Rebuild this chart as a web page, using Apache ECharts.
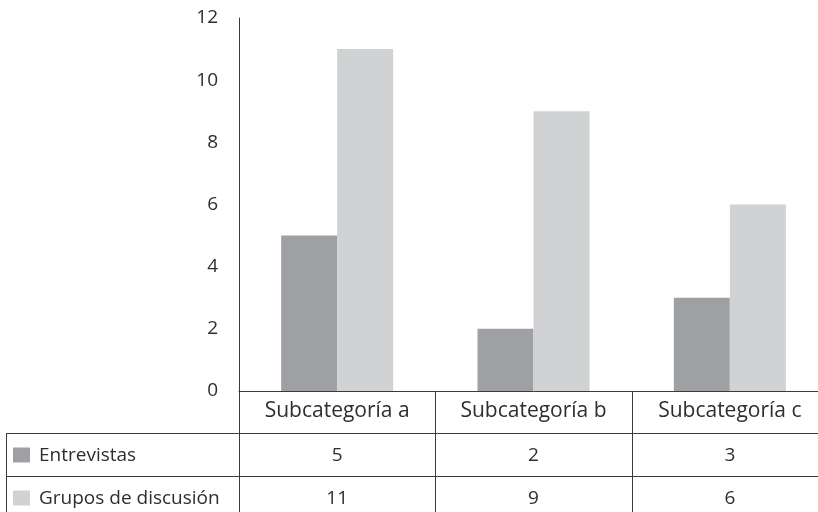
<!DOCTYPE html>
<html><head><meta charset="utf-8">
<script src="https://cdn.jsdelivr.net/npm/echarts@6/dist/echarts.min.js"></script>
<style>html,body{margin:0;padding:0;background:#fff;overflow:hidden;width:818px;height:512px}#c{width:828px;height:512px}</style>
</head><body><div id="c"></div>
<script>
var categories = ['Subcategoría a', 'Subcategoría b', 'Subcategoría c'];
var seriesNames = ['Entrevistas', 'Grupos de discusión'];
var entrevistas = [5, 2, 3];
var grupos = [11, 9, 6];
var yTicks = [0, 2, 4, 6, 8, 10, 12];

var FONT = '"Open Sans", "Noto Sans", sans-serif';
var LINE = '#3a3a3a';
var TXT = '#2e2e2e';
var COLORS = ['#9fa0a4', '#d1d2d4'];

var chart = echarts.init(document.getElementById('c'), null, {renderer: 'canvas'});
var option = {
  animation: false,
  grid: {left: 239, top: 18, bottom: 121, right: 0, containLabel: false},
  xAxis: {
    type: 'category', data: categories,
    axisLine: {show: true, lineStyle: {color: LINE, width: 1}},
    axisTick: {show: false},
    axisLabel: {color: TXT, fontFamily: FONT, fontSize: 21, margin: 10, interval: 0}
  },
  yAxis: {
    type: 'value', min: yTicks[0], max: yTicks[yTicks.length - 1], interval: 2,
    axisLine: {show: true, lineStyle: {color: LINE, width: 1}},
    axisTick: {show: false},
    splitLine: {show: false},
    axisLabel: {color: TXT, fontFamily: FONT, fontSize: 19, margin: 21}
  },
  series: [
    {name: seriesNames[0], type: 'bar', data: entrevistas, barWidth: 56, barGap: '0%', itemStyle: {color: COLORS[0]}},
    {name: seriesNames[1], type: 'bar', data: grupos, barWidth: 56, barGap: '0%', itemStyle: {color: COLORS[1]}}
  ]
};
chart.setOption(option);

// data table below the chart
var centers = categories.map(function (c) { return chart.convertToPixel({xAxisIndex: 0}, c); });
var gridLeft = 239, axisY = 391, rowH = 43, right = 828, tableLeft = 6;
var g = [];
function line(x1, y1, x2, y2) {
  g.push({type: 'line', shape: {x1: x1, y1: y1, x2: x2, y2: y2}, style: {stroke: LINE, lineWidth: 1}, silent: true});
}
var bounds = [gridLeft];
for (var i = 0; i < centers.length - 1; i++) bounds.push((centers[i] + centers[i + 1]) / 2);
bounds.forEach(function (b) { line(Math.round(b) + 0.5, axisY, Math.round(b) + 0.5, 512); });
var r1 = axisY + rowH - 1, r2 = r1 + rowH;
line(tableLeft, r1 + 0.5, right, r1 + 0.5);
line(tableLeft, r2 + 0.5, right, r2 + 0.5);
line(tableLeft + 0.5, r1, tableLeft + 0.5, 512);
var rows = [entrevistas, grupos];
rows.forEach(function (vals, ri) {
  var cy = r1 + rowH * ri + rowH / 2 + 1;
  g.push({type: 'rect', shape: {x: 13, y: cy - 8, width: 17, height: 15}, style: {fill: COLORS[ri]}, silent: true});
  g.push({type: 'text', x: 39, y: cy, style: {text: seriesNames[ri], fill: TXT, font: '19px ' + FONT, verticalAlign: 'middle', align: 'left'}, silent: true});
  vals.forEach(function (v, ci) {
    g.push({type: 'text', x: centers[ci], y: cy, style: {text: String(v), fill: TXT, font: '19px ' + FONT, verticalAlign: 'middle', align: 'center'}, silent: true});
  });
});
chart.setOption({graphic: g});
</script></body></html>
